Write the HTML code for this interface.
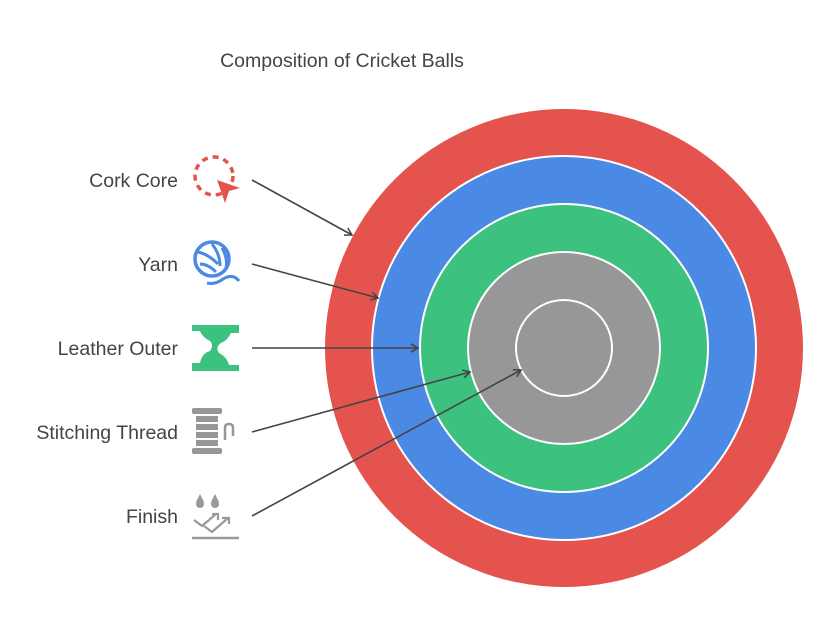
<!DOCTYPE html>
<html><head><style>
body{margin:0;background:#fff;}
svg text{font-family:"Liberation Sans",sans-serif;fill:#444;}
</style></head><body>
<svg width="828" height="636" viewBox="0 0 828 636" xmlns="http://www.w3.org/2000/svg">
<defs><marker id="a" markerWidth="10" markerHeight="10" refX="8" refY="5" orient="auto" markerUnits="userSpaceOnUse"><path d="M1,1 L8,5 L1,9" fill="none" stroke="#444" stroke-width="1.6"/></marker></defs>
<text x="342" y="67" font-size="19.5" text-anchor="middle">Composition of Cricket Balls</text>
<circle cx="564" cy="348" r="239" fill="#e5534e"/>
<circle cx="564" cy="348" r="192" fill="#4a89e4" stroke="#fff" stroke-width="2"/>
<circle cx="564" cy="348" r="144" fill="#3dc17f" stroke="#fff" stroke-width="2"/>
<circle cx="564" cy="348" r="96" fill="#979797" stroke="#fff" stroke-width="2"/>
<circle cx="564" cy="348" r="48" fill="#979797" stroke="#fff" stroke-width="2"/>
<g font-size="19.5" text-anchor="end">
<text x="178" y="187">Cork Core</text>
<text x="178" y="271">Yarn</text>
<text x="178" y="355">Leather Outer</text>
<text x="178" y="439">Stitching Thread</text>
<text x="178" y="523">Finish</text>
</g>
<g stroke="#444" stroke-width="1.6" fill="none" marker-end="url(#a)">
<line x1="252" y1="180" x2="352" y2="235"/>
<line x1="252" y1="264" x2="378" y2="298"/>
<line x1="252" y1="348" x2="418" y2="348"/>
<line x1="252" y1="432" x2="470" y2="372"/>
<line x1="252" y1="516" x2="521" y2="370"/>
</g>
<circle cx="214" cy="176" r="19" fill="none" stroke="#e5534e" stroke-width="3.5" stroke-dasharray="6 5"/>
<path d="M217,180 L240,188 L229,191 L225,203 Z" fill="#e5534e"/>
<circle cx="212" cy="259" r="17" fill="none" stroke="#4a89e4" stroke-width="3.5"/>
<path d="M198,252 q10,2 20,12 M200,264 q8,0 16,8 M212,244 q8,10 8,22 M222,248 q6,10 4,20" stroke="#4a89e4" stroke-width="3" fill="none"/>
<path d="M207,283 q8,2 16,-4 q10,-6 16,2" stroke="#4a89e4" stroke-width="3" fill="none"/>
<path d="M192,325 h47 v8 h-8 q-4,8 -10,10 q-6,4 -2,10 q8,4 10,12 h10 v6 h-47 v-8 h8 q2,-10 10,-12 q4,-6 0,-10 q-8,-4 -10,-10 h-8z" fill="#3dc17f"/>
<g fill="#979797"><rect x="192" y="408" width="30" height="6" rx="2"/><rect x="196" y="416" width="22" height="6"/><rect x="196" y="424" width="22" height="6"/><rect x="196" y="432" width="22" height="6"/><rect x="192" y="448" width="30" height="6" rx="2"/><rect x="196" y="440" width="22" height="6"/></g>
<path d="M225,440 v-12 q0,-4 4,-4 q4,0 4,4 v8" stroke="#979797" stroke-width="2.5" fill="none"/>
<g fill="#999"><circle cx="200" cy="504" r="4"/><circle cx="215" cy="504" r="4"/><path d="M196,502 l4,-8 l4,8z M211,502 l4,-8 l4,8z"/></g>
<path d="M194,520 l8,6 l14,-12 M204,526 l8,6 l16,-14 M212,514 h6 v6 M222,518 h7 v6" stroke="#999" stroke-width="2.2" fill="none"/>
<line x1="192" y1="538" x2="239" y2="538" stroke="#999" stroke-width="2.5"/>
</svg>
</body></html>
